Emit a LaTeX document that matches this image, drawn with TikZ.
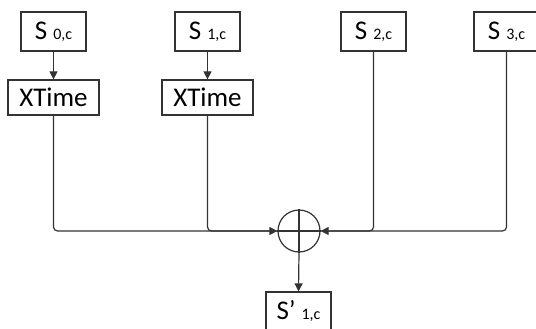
\documentclass[tikz,border=0pt]{standalone}
\usepackage{fontspec}
\setmainfont{Carlito}
\usetikzlibrary{arrows.meta,positioning}
\newcommand{\idx}[1]{{\fontsize{16}{16}\selectfont #1}}

\begin{document}
\begin{tikzpicture}[
  x=1pt, y=-1pt,
  state/.style={draw=black!80, line width=1.2pt, minimum width=65pt, minimum height=39pt, inner sep=0pt, font=\fontsize{27}{27}\selectfont},
  xtime/.style={state, minimum width=91pt, minimum height=35pt},
  wire/.style={line width=1.2pt, draw=black!80, rounded corners=4pt},
  arrow/.style={wire, -{Triangle[length=8pt,width=8pt]}}
]
\clip (0,0) rectangle (536,329);
\node[state] (s0) at (53.5,31.5) {S \idx{0,c}};
\node[state] (s1) at (207.5,31.5) {S \idx{1,c}};
\node[state] (s2) at (373.5,31.5) {S \idx{2,c}};
\node[state] (s3) at (506.5,31.5) {S \idx{3,c}};
\node[xtime] (xt0) at (53.5,97.5) {XTime};
\node[xtime] (xt1) at (207.5,97.5) {XTime};
\node[circle, draw=black!80, line width=1.2pt, minimum size=42pt, inner sep=0pt] (xor) at (299,231) {};
\node[state] (out) at (298.5,311.5) {S’ \idx{1,c}};
\draw[arrow] (s0) -- (xt0);
\draw[arrow] (s1) -- (xt1);
\draw[wire] (xt1.south) |- (xor.west);
\draw[arrow] (xt0.south) |- (xor.west);
\draw[wire] (s2.south) |- (xor.east);
\draw[arrow] (s3.south) |- (xor.east);
\draw[wire] (xor.north) -- (xor.south);
\draw[wire] (xor.west) -- (xor.east);
\draw[arrow] (xor.south) -- (out.north);
\end{tikzpicture}
\end{document}
